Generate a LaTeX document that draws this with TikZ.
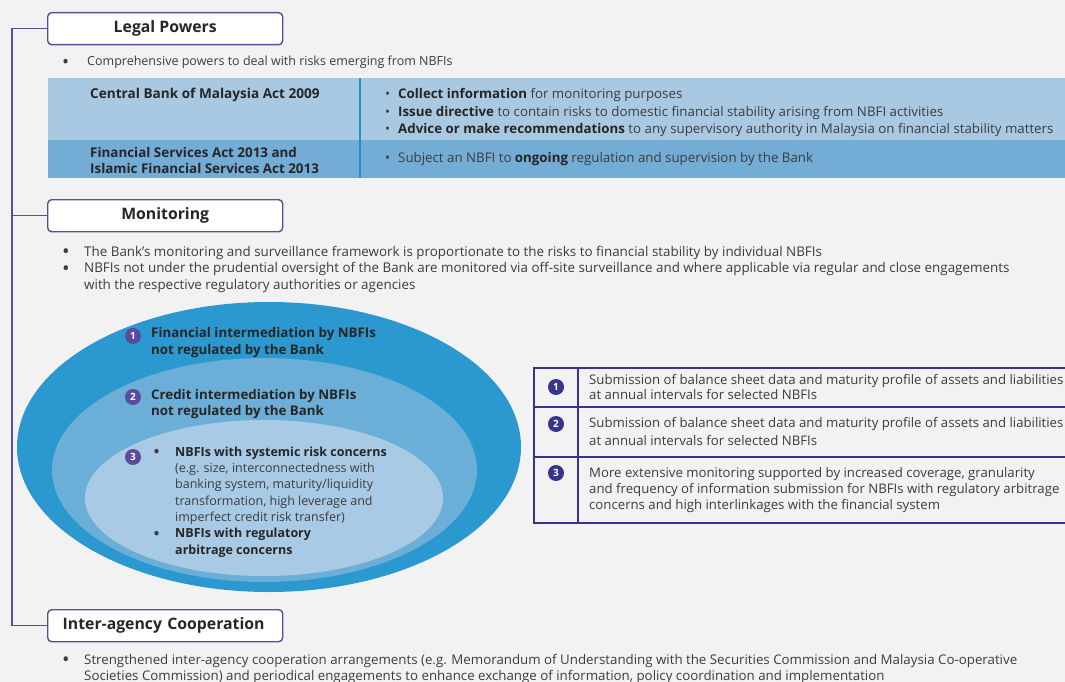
\documentclass[tikz,border=0pt]{standalone}
\usepackage{fontspec}
\setmainfont{Open Sans}
\usetikzlibrary{positioning}
\definecolor{bnmpurple}{HTML}{5B4B9E}
\definecolor{bnmnavy}{HTML}{37358A}
\definecolor{pagegrey}{HTML}{F2F2F2}
\definecolor{rowlight}{HTML}{A9C9E3}
\definecolor{rowdark}{HTML}{73ACD5}
\definecolor{rulecyan}{HTML}{2A8FD0}
\definecolor{ringout}{HTML}{2B99CF}
\definecolor{ringmid}{HTML}{6BAED7}
\definecolor{ringin}{HTML}{A9CAE4}
\definecolor{greytext}{HTML}{3C3C3C}
\newcommand{\dotmark}{\raisebox{-0.35ex}{\scalebox{1.5}{\textbullet}}}
\newcommand{\bul}{\makebox[22pt][l]{\dotmark}}
\newcommand{\tbul}{\makebox[13pt][l]{\textbullet}}
\newcommand{\hl}[1]{\textbf{\color{black!85}#1}}

\begin{document}
\begin{tikzpicture}[x=1pt,y=-1pt,
	header/.style={draw=bnmpurple, line width=1.4pt, rounded corners=4pt, fill=white, anchor=north west, minimum width=235, minimum height=32, inner sep=0pt, font=\fontsize{15.8}{17}\selectfont\bfseries, text=black!85},
	bodytext/.style={anchor=base west, align=left, inner sep=0pt, text=greytext, font=\fontsize{12.5}{16.5}\selectfont},
	boldtext/.style={bodytext, text=black!85, font=\fontsize{13.6}{16}\selectfont\bfseries},
	numdot/.style={circle, fill=bnmpurple, text=white, inner sep=0pt, minimum size=16, font=\fontsize{10}{10}\selectfont\bfseries},
	navydot/.style={numdot, fill=bnmnavy},
	spine/.style={draw=bnmpurple, line width=1.4pt}]
\useasboundingbox (0,0) rectangle (1065,682);
\fill[pagegrey] (0,0) rectangle (1065,682);

% Headers
\node[header] (legal) at (47,12) {Legal Powers};
\node[header] (monitor) at (47,199) {Monitoring};
\node[header, text width=205, inner xsep=15pt, align=left] (coop) at (47,609) {Inter-agency Cooperation};
% Spine to the headers
\draw[spine] (legal.west) -- ++(-35,0) |- (coop.west);
\draw[spine] (monitor.west) -- ++(-35,0);

% Legal powers (multi-line nodes sit on the baseline of their last line)
\node[bodytext] (legalpt) at (62,66) {\makebox[25pt][l]{\dotmark}Comprehensive powers to deal with risks emerging from NBFIs};
\fill[rowlight] (48,78) rectangle (1065,140);
\fill[rowdark] (48,140) rectangle (1065,178);
\draw[rulecyan, line width=2pt] (360,78) -- (360,178);
\node[boldtext] (cbma) at (90,99) {Central Bank of Malaysia Act 2009};
\node[bodytext, font=\fontsize{13.3}{17}\selectfont] (cbmapts) at (385,133) {\tbul\hl{Collect information} for monitoring purposes\\
	\tbul\hl{Issue directive} to contain risks to domestic financial stability arising from NBFI activities\\
	\tbul\hl{Advice or make recommendations} to any supervisory authority in Malaysia on financial stability matters};
\node[boldtext, font=\fontsize{13.4}{16}\selectfont\bfseries] (fsa) at (90,173) {Financial Services Act 2013 and\\Islamic Financial Services Act 2013};
\node[bodytext, font=\fontsize{13.3}{17}\selectfont] (fsapts) at (385,162) {\tbul Subject an NBFI to \hl{ongoing} regulation and supervision by the Bank};

% Monitoring
\node[bodytext, font=\fontsize{13.4}{16.5}\selectfont] (monpts) at (62,289) {\bul The Bank's monitoring and surveillance framework is proportionate to the risks to financial stability by individual NBFIs\\
	\bul NBFIs not under the prudential oversight of the Bank are monitored via off-site surveillance and where applicable via regular and close engagements\\
	\hspace*{22pt}with the respective regulatory authorities or agencies};

% Rings
\fill[ringout] (269,447) ellipse [x radius=252, y radius=145];
\fill[ringmid] (264.5,470) ellipse [x radius=212.5, y radius=112];
\fill[ringin] (264,498) ellipse [x radius=179, y radius=78];
\node[numdot] (n1) at (133,336) {1};
\node[numdot] (n2) at (133,397) {2};
\node[numdot] (n3) at (133,457) {3};
\node[boldtext, font=\fontsize{13.3}{17}\selectfont\bfseries] (ring1) at (151,354) {Financial intermediation by NBFIs\\not regulated by the Bank};
\node[boldtext, font=\fontsize{13.3}{16}\selectfont\bfseries] (ring2) at (151,415) {Credit intermediation by NBFIs\\not regulated by the Bank};
\node[bodytext, font=\fontsize{12.5}{16.3}\selectfont] (ring3) at (153,554) {\bul\hl{NBFIs with systemic risk concerns}\\
	\hspace*{22pt}(e.g. size, interconnectedness with\\
	\hspace*{22pt}banking system, maturity/liquidity\\
	\hspace*{22pt}transformation, high leverage and\\
	\hspace*{22pt}imperfect credit risk transfer)\\
	\bul\hl{NBFIs with regulatory}\\
	\hspace*{22pt}\hl{arbitrage concerns}};

% Reporting table
\draw[bnmnavy, line width=1.6pt] (1066,368) -- (534,368) -- (534,523) -- (1066,523);
\draw[bnmnavy, line width=1.6pt] (534,407) -- (1066,407) (534,457) -- (1066,457) (578,368) -- (578,523);
\node[navydot] (r1) at (556,387) {1};
\node[navydot] (r2) at (556,424) {2};
\node[navydot] (r3) at (556,473) {3};
\node[bodytext, font=\fontsize{13.2}{15}\selectfont] (row1) at (589,399) {Submission of balance sheet data and maturity profile of assets and liabilities\\at annual intervals for selected NBFIs};
\node[bodytext, font=\fontsize{13.2}{17.5}\selectfont] (row2) at (589,445) {Submission of balance sheet data and maturity profile of assets and liabilities\\at annual intervals for selected NBFIs};
\node[bodytext, font=\fontsize{13.2}{16}\selectfont] (row3) at (589,509) {More extensive monitoring supported by increased coverage, granularity\\and frequency of information submission for NBFIs with regulatory arbitrage\\concerns and high interlinkages with the financial system};

% Inter-agency cooperation
\node[bodytext, font=\fontsize{13.3}{16}\selectfont] (cooppts) at (62,680) {\bul Strengthened inter-agency cooperation arrangements (e.g. Memorandum of Understanding with the Securities Commission and Malaysia Co-operative\\
	\hspace*{22pt}Societies Commission) and periodical engagements to enhance exchange of information, policy coordination and implementation};
\end{tikzpicture}
\end{document}
